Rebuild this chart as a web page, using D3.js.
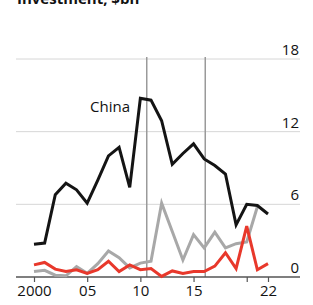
<!DOCTYPE html>
<html>
<head>
<meta charset="utf-8">
<script src="https://cdn.jsdelivr.net/npm/d3@7"></script>
<style>
  body { margin: 0; background: #fff; }
  svg { display: block; }
  text { font-family: "Open Sans", sans-serif; fill: #121212; }
</style>
</head>
<body>
<svg width="313" height="305"></svg>
<script>
"use strict";

const years = d3.range(2000, 2023);
const china = [2.7, 2.8, 6.8, 7.75, 7.2, 6.1, 8.0, 10.0, 10.7, 7.4, 14.75, 14.6, 12.9, 9.3, 10.2, 11.0, 9.75, 9.2, 8.5, 4.3, 6.0, 5.9, 5.2];
const grey = [0.45, 0.55, 0.15, 0.1, 0.85, 0.3, 1.1, 2.15, 1.6, 0.75, 1.15, 1.3, 6.1, 3.75, 1.4, 3.5, 2.4, 3.7, 2.4, 2.75, 2.9, 5.8];
const red = [1.0, 1.2, 0.65, 0.45, 0.6, 0.3, 0.6, 1.3, 0.45, 1.0, 0.6, 0.7, 0.05, 0.5, 0.3, 0.45, 0.45, 0.9, 2.0, 0.7, 4.2, 0.6, 1.1];
const yTicks = [0, 6, 12, 18];
const xTicks = [2000, 2005, 2010, 2015, 2020, 2022];
const xLabels = { 2000: "2000", 2005: "05", 2010: "10", 2015: "15", 2022: "22" };
const markers = [2010.6, 2016.1];

const svg = d3.select("svg");

const x = d3.scaleLinear().domain([2000, 2022]).range([34, 268]);
const y = d3.scaleLinear().domain([0, 18]).range([277, 59]);

// title, cut off at the top
svg.append("text")
    .attr("x", 17)
    .attr("y", 4)
    .style("font-weight", "bold")
    .style("font-size", "15px")
    .text("Investment, $bn");

// gridlines
svg.append("g")
    .selectAll("line")
    .data(yTicks.filter(d => d > 0))
    .enter()
    .append("line")
    .attr("x1", 16)
    .attr("x2", 300)
    .attr("y1", d => y(d))
    .attr("y2", d => y(d))
    .attr("stroke", "#d6d6d6")
    .attr("stroke-width", 1);

svg.append("g")
    .selectAll("text")
    .data(yTicks)
    .enter()
    .append("text")
    .attr("x", 299)
    .attr("y", d => y(d) - 4)
    .attr("text-anchor", "end")
    .style("font-size", "15px")
    .text(d => d);

// vertical marker lines
svg.append("g")
    .selectAll("line")
    .data(markers)
    .enter()
    .append("line")
    .attr("x1", d => x(d))
    .attr("x2", d => x(d))
    .attr("y1", y(18) - 2)
    .attr("y2", y(0))
    .attr("stroke", "#9a9a9a")
    .attr("stroke-width", 1.5);

// x axis
const xAxis = d3.axisBottom(x)
    .tickValues(xTicks)
    .tickSize(5)
    .tickPadding(3)
    .tickFormat(d => xLabels[d] || "");

const ax = svg.append("g")
    .attr("transform", `translate(0, ${y(0)})`)
    .call(xAxis);
ax.select(".domain").remove();
ax.selectAll(".tick line").attr("stroke", "#555").attr("stroke-width", 1.2);
ax.selectAll(".tick text")
    .style("font-family", "'Open Sans', sans-serif")
    .style("font-size", "15px")
    .attr("fill", "#121212");
ax.append("line")
    .attr("x1", 16)
    .attr("x2", 300)
    .attr("stroke", "#555")
    .attr("stroke-width", 1.5);

const line = d3.line()
    .x((d, i) => x(years[i]))
    .y(d => y(d));

const series = [
    { values: grey, color: "#a8a8a8" },
    { values: red, color: "#e8382b" },
    { values: china, color: "#141414" }
];

svg.append("g")
    .selectAll("path")
    .data(series)
    .enter()
    .append("path")
    .attr("d", d => line(d.values))
    .attr("fill", "none")
    .attr("stroke", d => d.color)
    .attr("stroke-width", 3)
    .attr("stroke-linejoin", "miter")
    .attr("stroke-linecap", "butt");

svg.append("text")
    .attr("x", 130)
    .attr("y", 112)
    .attr("text-anchor", "end")
    .style("font-size", "15px")
    .text("China");
</script>
</body>
</html>
